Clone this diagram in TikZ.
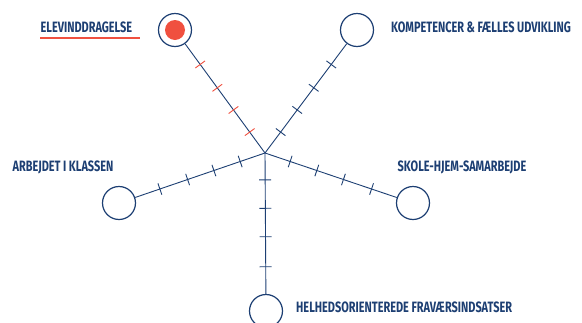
\documentclass[tikz,border=0pt]{standalone}
\usepackage{fontspec}
\usepackage{xcolor}
\usetikzlibrary{calc}
\newfontfamily\handfont[FakeStretch=0.73]{Fira Sans}
\definecolor{navy}{HTML}{1D3F73}
\definecolor{tomato}{HTML}{F0503F}

\tikzset{
  spoke/.style={navy, line width=0.9pt},
  hubcircle/.style={circle, draw=navy, line width=1.2pt, minimum size=33pt, inner sep=0pt},
  lbl/.style={text=navy, font=\handfont\bfseries\fontsize{15}{16}\selectfont, inner sep=0pt},
  tick/.style={line width=0.9pt}
}

\begin{document}
\begin{tikzpicture}[x=1pt,y=-1pt]
        \useasboundingbox (0,0) rectangle (582,322);

        \coordinate (hub) at (265,153);

        \node[hubcircle] (elev) at (175,30) {};
        \node[hubcircle] (komp) at (357,30) {};
        \node[hubcircle] (arb) at (119,203) {};
        \node[hubcircle] (skole) at (413,203) {};
        \node[hubcircle] (helhed) at (266,311) {};

        \fill[tomato] (elev.center) circle (10pt);

        % spokes
        \foreach \c in {elev,komp,arb,skole,helhed}
            \draw[spoke] (hub) -- (\c);

        % ticks
        \foreach \c/\col in {elev/tomato,komp/navy,arb/navy,skole/navy,helhed/navy}
            \foreach \p in {0.17,0.35,0.53,0.72}
                \draw[tick, \col] ($(hub)!\p!(\c.center)!6pt!90:(\c.center)$) -- ($(hub)!\p!(\c.center)!6pt!-90:(\c.center)$);

        % labels
        \node[lbl, anchor=west] (elevtxt) at (40.5,27.5) {ELEVINDDRAGELSE};
        \draw[tomato, line width=1.6pt] (40,37.7) -- (140,37.7);
        \node[lbl, anchor=west] (komptxt) at (391,27) {KOMPETENCER \& FÆLLES UDVIKLING};
        \node[lbl, anchor=west] (arbtxt) at (12.5,167) {ARBEJDET I KLASSEN};
        \node[lbl, anchor=west] (skoletxt) at (397.5,167) {SKOLE-HJEM-SAMARBEJDE};
        \node[lbl, anchor=west] (helhedtxt) at (296,307) {HELHEDSORIENTEREDE FRAVÆRSINDSATSER};
    \end{tikzpicture}
\end{document}
